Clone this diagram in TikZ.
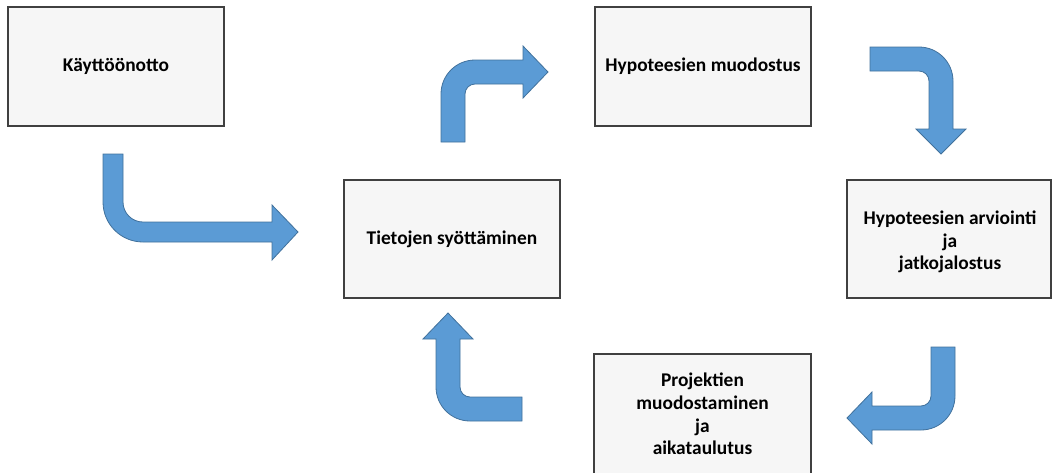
\documentclass[tikz,border=0pt]{standalone}
\usepackage{fontspec}
\setmainfont{Carlito}
\definecolor{boxfill}{HTML}{F6F6F6}
\definecolor{boxline}{HTML}{404040}
\definecolor{arrowfill}{HTML}{5B9BD5}
\definecolor{arrowline}{HTML}{41719C}
\tikzset{
  stage/.style={draw=boxline, line width=1.1pt, fill=boxfill, align=center,
    inner sep=0pt, font=\bfseries\fontsize{19.4}{22.8}\selectfont},
  blockarrow/.style={fill=arrowfill, draw=arrowline, line width=0.8pt, line join=miter}
}
\begin{document}
\begin{tikzpicture}[x=1pt, y=-1pt]
\useasboundingbox (0,0) rectangle (1053,472);

% process stages
\node[stage, minimum width=216pt, minimum height=119pt] (kayt) at (116,66.5) {Käyttöönotto};
\node[stage, minimum width=216pt, minimum height=119pt] (hmuod) at (703,66.5) {Hypoteesien muodostus};
\node[stage, minimum width=216pt, minimum height=118pt] (tiet) at (452,239) {Tietojen syöttäminen};
\node[stage, minimum width=204pt, minimum height=118pt] (harv) at (949,239) {};
\node[align=center, inner sep=0pt, font=\bfseries\fontsize{19.4}{22.8}\selectfont]
  (harvtext) at (950,242) {Hypoteesien arviointi\\ja\\jatkojalostus};
\node[stage, minimum width=217pt, minimum height=124pt] (proj) at (702.5,416) {};
\node[align=center, inner sep=0pt, font=\bfseries\fontsize{19.4}{22.8}\selectfont]
  (projtext) at (702.5,414) {Projektien\\muodostaminen\\ja\\aikataulutus};

% bent block arrows between the stages
% Käyttöönotto -> Tietojen syöttäminen
\draw[blockarrow] (103,154) -- (103,202) .. controls (103,224.1) and (120.9,242) .. (143,242)
  -- (272,242) -- (272,260) -- (298,232) -- (272,205) -- (272,222) -- (143,222)
  .. controls (131.95,222) and (123,213.05) .. (123,202) -- (123,154) -- cycle;

% Tietojen syöttäminen -> Hypoteesien muodostus
\draw[blockarrow] (441,142) -- (441,94) .. controls (441,75.2) and (456.2,60) .. (475,60)
  -- (523,60) -- (523,46) -- (548,72) -- (523,98) -- (523,84) -- (475,84)
  .. controls (469.5,84) and (465,88.5) .. (465,94) -- (465,142) -- cycle;

% Hypoteesien muodostus -> Hypoteesien arviointi
\draw[blockarrow] (870,47) -- (919,47) .. controls (937.8,47) and (953,62.2) .. (953,81)
  -- (953,129) -- (966,129) -- (941,154) -- (916,129) -- (929,129) -- (929,81)
  .. controls (929,75.5) and (924.5,71) .. (919,71) -- (870,71) -- cycle;

% Hypoteesien arviointi -> Projektien muodostaminen
\draw[blockarrow] (955,347) -- (955,396) .. controls (955,414.8) and (939.8,430) .. (921,430)
  -- (872,430) -- (872,444) -- (847,418) -- (872,392) -- (872,406) -- (921,406)
  .. controls (926.5,406) and (931,401.5) .. (931,396) -- (931,347) -- cycle;

% Projektien muodostaminen -> Tietojen syöttäminen
\draw[blockarrow] (522,421) -- (470,421) .. controls (451.2,421) and (436,405.8) .. (436,387)
  -- (436,339) -- (423,339) -- (448,313) -- (473,339) -- (460,339) -- (460,387)
  .. controls (460,392.5) and (464.5,397) .. (470,397) -- (522,397) -- cycle;
\end{tikzpicture}
\end{document}
